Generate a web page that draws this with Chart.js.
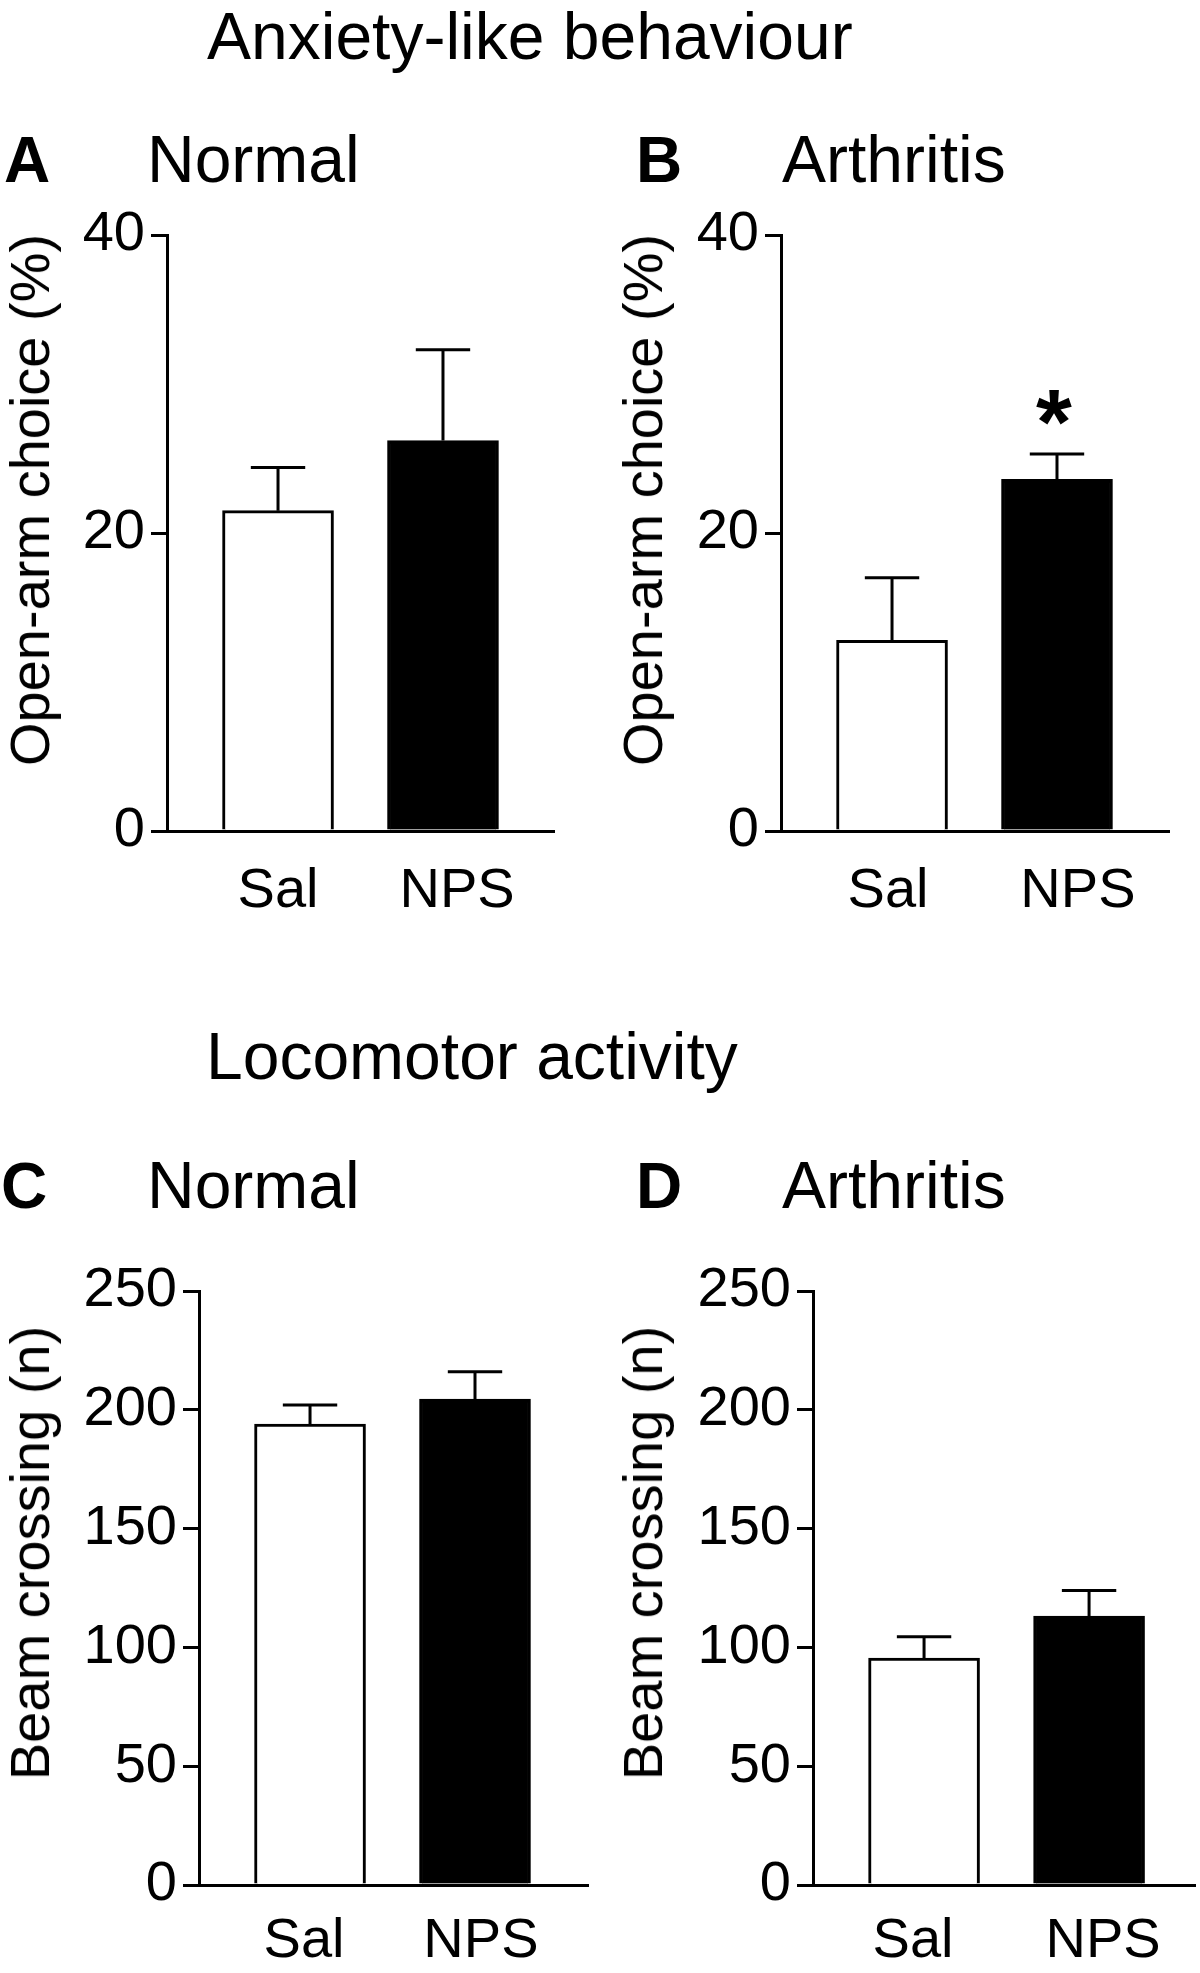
<!DOCTYPE html>
<html>
<head>
<meta charset="utf-8">
<script src="https://cdn.jsdelivr.net/npm/chart.js@4.4.1/dist/chart.umd.min.js"></script>
<style>
  body { margin: 0; background: #fff; width: 1200px; height: 1973px; position: relative; overflow: hidden;
         font-family: "Liberation Sans", Arial, sans-serif; color: #000; }
  .t { position: absolute; white-space: nowrap; line-height: 1; font-size: 66px; }
  .b { font-weight: bold; font-size: 64px; }
  .yt { position: absolute; white-space: nowrap; line-height: 1; font-size: 56px;
        transform: translate(-50%, -50%) rotate(-90deg); }
  canvas { position: absolute; }
</style>
</head>
<body>
<div class="t" style="left:207px;top:3px">Anxiety-like behaviour</div>
<div class="t b" style="left:4px;top:128px">A</div>
<div class="t" style="left:147px;top:126px">Normal</div>
<div class="t b" style="left:636px;top:128px">B</div>
<div class="t" style="left:782px;top:126px">Arthritis</div>

<div class="t" style="left:206px;top:1023px">Locomotor activity</div>
<div class="t b" style="left:1px;top:1154px">C</div>
<div class="t" style="left:147px;top:1152px">Normal</div>
<div class="t b" style="left:636px;top:1154px">D</div>
<div class="t" style="left:782px;top:1152px">Arthritis</div>

<canvas id="chartA" width="555" height="746" style="left:0;top:195px"></canvas>
<canvas id="chartB" width="556" height="746" style="left:614px;top:195px"></canvas>
<canvas id="chartC" width="589" height="722" style="left:0;top:1251px"></canvas>
<canvas id="chartD" width="582" height="722" style="left:614px;top:1251px"></canvas>

<div class="yt" style="left:30px;top:500px">Open-arm choice (%)</div>
<div class="yt" style="left:643px;top:500px">Open-arm choice (%)</div>
<div class="yt" style="left:30px;top:1553px">Beam crossing (n)</div>
<div class="yt" style="left:643px;top:1553px">Beam crossing (n)</div>

<script>
// groepen
const groups = ['Sal', 'NPS'];
const barFills = ['#ffffff', '#000000'];

// open-arm keuze (%), gemiddelde en SEM
const anxNormalMean = [21.5, 26.2];
const anxNormalSem = [2.9, 6.1];
const anxArthritisMean = [12.8, 23.6];
const anxArthritisSem = [4.2, 1.7];
const anxArthritisSig = ['', '*'];

// beam crossings (n)
const locoNormalMean = [194, 204.5];
const locoNormalSem = [8, 11.5];
const locoArthritisMean = [95.5, 113.2];
const locoArthritisSem = [9, 10.8];

const anxTicks = [0, 20, 40];
const locoTicks = [0, 50, 100, 150, 200, 250];

Chart.defaults.font.family = '"Liberation Sans", Arial, sans-serif';
Chart.defaults.color = '#000';

// foutbalken (alleen boven) + sterretje
const errorBars = {
  id: 'errorBars',
  afterDatasetsDraw(chart) {
    const ctx = chart.ctx;
    const yScale = chart.scales.y;
    chart.data.datasets.forEach((ds, di) => {
      const meta = chart.getDatasetMeta(di);
      meta.data.forEach((bar, i) => {
        const top = yScale.getPixelForValue(ds.data[i].y + ds.sem[i]);
        const half = bar.width * 0.245;
        ctx.save();
        ctx.strokeStyle = '#000';
        ctx.lineWidth = 3;
        ctx.beginPath();
        ctx.moveTo(bar.x, bar.y);
        ctx.lineTo(bar.x, top);
        ctx.moveTo(bar.x - half, top);
        ctx.lineTo(bar.x + half, top);
        ctx.stroke();
        if (ds.sig && ds.sig[i]) {
          ctx.fillStyle = '#000';
          ctx.font = 'bold 92px "Liberation Sans", Arial, sans-serif';
          ctx.textAlign = 'center';
          ctx.textBaseline = 'alphabetic';
          ctx.fillText(ds.sig[i], bar.x - 3, top);
        }
        ctx.restore();
      });
    });
  }
};

// labelShift: hoe ver het label naast het midden van de staaf staat (in groepseenheden)
function panel(id, means, sems, sig, yTicks, yWidth, xMax, xHeight, labelPad, labelShift) {
  new Chart(document.getElementById(id), {
    type: 'bar',
    data: {
      datasets: [{
        data: means.map((m, i) => ({ x: i + 1, y: m })),
        sem: sems,
        sig: sig,
        backgroundColor: barFills,
        borderColor: '#000',
        borderWidth: 3,
        borderSkipped: 'bottom',
        barThickness: 111
      }]
    },
    options: {
      responsive: false,
      animation: false,
      devicePixelRatio: 1,
      layout: { padding: { top: 40, left: 0, right: 0, bottom: 0 } },
      plugins: { legend: { display: false }, tooltip: { enabled: false } },
      scales: {
        x: {
          type: 'linear',
          min: 0.327,
          max: xMax,
          offset: false,
          afterBuildTicks: s => { s.ticks = groups.map((g, i) => ({ value: i + 1 + labelShift[i] })); },
          afterFit: s => { s.height = xHeight; },
          ticks: {
            callback: (v, idx) => groups[idx],
            font: { size: 56 },
            padding: labelPad,
            maxRotation: 0,
            autoSkip: false
          },
          grid: { display: true, drawOnChartArea: false, drawTicks: false, offset: false },
          border: { display: true, color: '#000', width: 3 }
        },
        y: {
          min: 0,
          max: yTicks[yTicks.length - 1],
          afterBuildTicks: s => { s.ticks = yTicks.map(v => ({ value: v })); },
          afterFit: s => { s.width = yWidth; },
          ticks: { font: { size: 56 }, padding: 6 },
          grid: { drawOnChartArea: false, drawTicks: true, tickLength: 16, lineWidth: 3, color: '#000' },
          border: { display: true, color: '#000', width: 3 }
        }
      }
    },
    plugins: [errorBars]
  });
}

panel('chartA', anxNormalMean, anxNormalSem, null, anxTicks, 167, 2.679, 110, 27, [0, 0.085]);
panel('chartB', anxArthritisMean, anxArthritisSem, anxArthritisSig, anxTicks, 167, 2.685, 110, 27, [-0.024, 0.127]);
panel('chartC', locoNormalMean, locoNormalSem, null, locoTicks, 199, 2.691, 88, 23, [-0.036, 0.036]);
panel('chartD', locoArthritisMean, locoArthritisSem, null, locoTicks, 199, 2.648, 88, 23, [-0.067, 0.085]);
</script>
</body>
</html>
